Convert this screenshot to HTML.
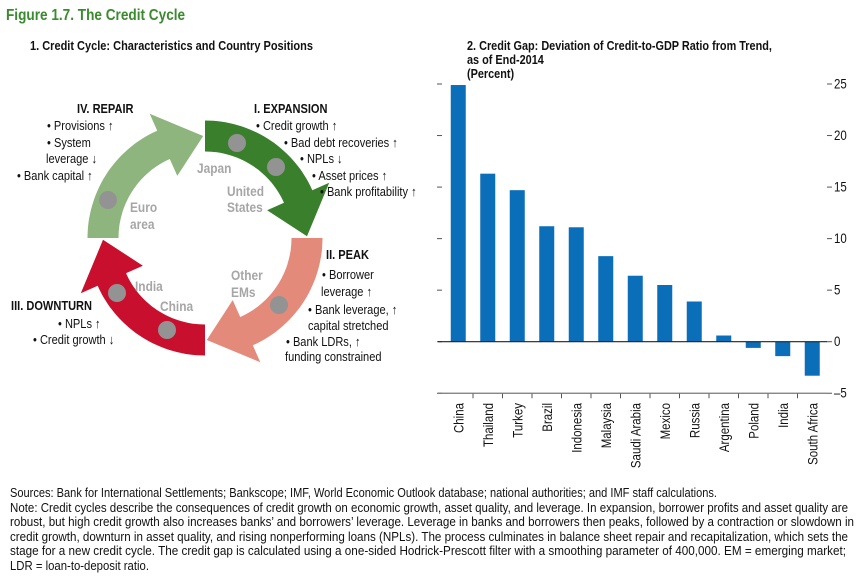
<!DOCTYPE html>
<html><head><meta charset="utf-8"><style>
body{margin:0;background:#fff;}
svg text{font-family:"Liberation Sans Narrow","Liberation Sans",sans-serif;}
</style></head><body>
<svg id="s" width="864" height="578" viewBox="0 0 864 578" xmlns="http://www.w3.org/2000/svg">
<text x="6" y="20" font-size="16" font-weight="bold" fill="#3a8a2e">Figure 1.7. The Credit Cycle</text>
<text x="30" y="50" font-size="12.5" font-weight="bold" fill="#111" data-f="0.88">1. Credit Cycle: Characteristics and Country Positions</text>
<g font-size="12.5" font-weight="bold" fill="#111">
<text x="467" y="50" data-f="0.87">2. Credit Gap: Deviation of Credit-to-GDP Ratio from Trend,</text>
<text x="467" y="64" data-f="0.87">as of End-2014</text>
<text x="467" y="78" data-f="0.87">(Percent)</text></g>
<g id="cycle"></g>
<g font-size="13" fill="#111">
<text x="77" y="113" font-weight="bold">IV. REPAIR</text>
<text x="47" y="130">• Provisions ↑</text>
<text x="47" y="147">• System</text>
<text x="46" y="163">leverage ↓</text>
<text x="17" y="180">• Bank capital ↑</text>
<text x="254" y="113" font-weight="bold">I. EXPANSION</text>
<text x="256" y="130">• Credit growth ↑</text>
<text x="284" y="147">• Bad debt recoveries ↑</text>
<text x="300" y="163">• NPLs ↓</text>
<text x="312" y="180">• Asset prices ↑</text>
<text x="320" y="196">• Bank profitability ↑</text>
<text x="326" y="259" font-weight="bold">II. PEAK</text>
<text x="322" y="279">• Borrower</text>
<text x="321" y="296">leverage ↑</text>
<text x="308" y="314">• Bank leverage, ↑</text>
<text x="308" y="330">capital stretched</text>
<text x="286" y="346">• Bank LDRs, ↑</text>
<text x="285" y="361">funding constrained</text>
<text x="11" y="310" font-weight="bold">III. DOWNTURN</text>
<text x="58" y="328">• NPLs ↑</text>
<text x="33" y="344">• Credit growth ↓</text>
</g>
<g font-size="14" font-weight="bold" fill="#a6a6a6">
<text x="197" y="173">Japan</text>
<text x="227" y="196">United</text><text x="227" y="212">States</text>
<text x="130" y="212">Euro</text><text x="130" y="229">area</text>
<text x="231" y="280">Other</text><text x="231" y="297">EMs</text>
<text x="135" y="291">India</text>
<text x="160" y="311">China</text>
</g>
<g id="chart"></g>
<g font-size="12.5" fill="#111">
<text data-w="707" x="10" y="497">Sources: Bank for International Settlements; Bankscope; IMF, World Economic Outlook database; national authorities; and IMF staff calculations.</text>
<text data-w="838" x="10" y="512">Note: Credit cycles describe the consequences of credit growth on economic growth, asset quality, and leverage. In expansion, borrower profits and asset quality are</text>
<text data-w="844" x="10" y="526">robust, but high credit growth also increases banks’ and borrowers’ leverage. Leverage in banks and borrowers then peaks, followed by a contraction or slowdown in</text>
<text data-w="838" x="10" y="541">credit growth, downturn in asset quality, and rising nonperforming loans (NPLs). The process culminates in balance sheet repair and recapitalization, which sets the</text>
<text data-w="836" x="10" y="555">stage for a new credit cycle. The credit gap is calculated using a one-sided Hodrick-Prescott filter with a smoothing parameter of 400,000. EM = emerging market;</text>
<text data-w="139" x="10" y="570">LDR = loan-to-deposit ratio.</text>
</g>
</svg>
<script>
const categories=["China","Thailand","Turkey","Brazil","Indonesia","Malaysia","Saudi Arabia","Mexico","Russia","Argentina","Poland","India","South Africa"];
const values=[24.9,16.3,14.7,11.2,11.1,8.3,6.4,5.5,3.9,0.6,-0.6,-1.4,-3.3];
const tickValues=[25,20,15,10,5,0,-5];
const tickLabels=["25","20","15","10","5","0","–5"];
const NS="http://www.w3.org/2000/svg";
function mk(tag,attrs,parent){const e=document.createElementNS(NS,tag);for(const k in attrs)e.setAttribute(k,attrs[k]);parent.appendChild(e);return e;}
const cyc=document.getElementById('cycle');
const cx=205,cy=238,rm=102,hw=15.5,hh=34,headAng=23;
function P(r,a){const t=a*Math.PI/180;return [cx+r*Math.cos(t),cy+r*Math.sin(t)];}
const arcs=[[180,270,"#8fb57e","repair-arrow"],[270,360,"#3a7f2b","expansion-arrow"],[0,90,"#e38a7b","peak-arrow"],[90,180,"#c8102e","downturn-arrow"]];
arcs.forEach(a=>{const s=a[0],e=a[1]-1,b=e-headAng;let pts=[];
for(let t=s;t<=b;t+=2)pts.push(P(rm+hw,t));pts.push(P(rm+hw,b));pts.push(P(rm+hh,b));pts.push(P(rm,e));pts.push(P(rm-hh,b));pts.push(P(rm-hw,b));
for(let t=b;t>=s;t-=2)pts.push(P(rm-hw,t));pts.push(P(rm-hw,s));
const p=mk('polygon',{points:pts.map(q=>q[0].toFixed(1)+','+q[1].toFixed(1)).join(' '),fill:a[2]},cyc);

});
[[237,143],[276,167],[108,200],[279,305],[117,293],[167,330]].forEach(d=>{const c=mk('circle',{cx:d[0],cy:d[1],r:9,fill:'#939393'},cyc);

});
const ch=document.getElementById('chart');
const x0=443.5,bw=29.5,yZero=341.7,per=(341.7-84)/25;
function Y(v){return yZero-v*per;}
function X(i){return x0+i*bw;}
tickValues.forEach((v,i)=>{
const t1=mk('line',{x1:437,x2:442,y1:Y(v),y2:Y(v),stroke:'#555','stroke-width':1},ch);


const t2=mk('line',{x1:827,x2:832,y1:Y(v),y2:Y(v),stroke:'#555','stroke-width':1},ch);


const l=mk('text',{x:834,y:Y(v)+4.5,'font-size':13.5,fill:'#111'},ch);l.textContent=tickLabels[i];

});
values.forEach((v,i)=>{const c=X(i)+bw/2;
const r=mk('rect',{x:c-7.5,width:15,y:Math.min(Y(v),yZero),height:Math.abs(Y(v)-yZero),fill:'#0a6eb8'},ch);


const t=mk('text',{'font-size':13.5,fill:'#111','text-anchor':'end',transform:'translate('+(c+5)+',403) rotate(-90)'},ch);t.textContent=categories[i];

});
for(let i=1;i<categories.length;i++){const t=mk('line',{x1:X(i),x2:X(i),y1:Y(-5),y2:Y(-5)+5,stroke:'#555'},ch);

}
const z=mk('line',{x1:438,x2:827,y1:yZero,y2:yZero,stroke:'#222','stroke-width':1.2},ch);


const bx=mk('line',{x1:438,x2:827,y1:Y(-5),y2:Y(-5),stroke:'#777','stroke-width':1.2},ch);


document.querySelectorAll('svg text').forEach(t=>{
const len=t.getComputedTextLength();
const f=t.getAttribute('data-f')?parseFloat(t.getAttribute('data-f')):0.85;
const w=t.getAttribute('data-w')?parseFloat(t.getAttribute('data-w')):len*f;
t.setAttribute('textLength',w.toFixed(1));
t.setAttribute('lengthAdjust','spacingAndGlyphs');});
</script>
</body></html>
